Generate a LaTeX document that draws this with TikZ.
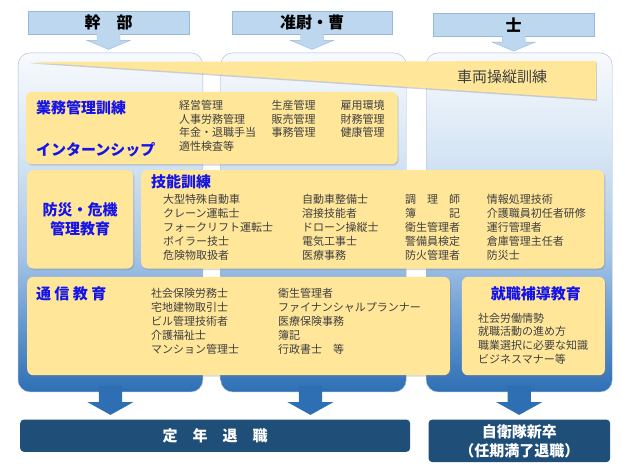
\documentclass[tikz,border=0pt]{standalone}
\usepackage{fontspec}
\setmainfont{Noto Sans CJK JP}
\usepackage{tikz}
\usetikzlibrary{
  positioning,
  calc,
  shadows
}
\definecolor{HeadFill}{RGB}{189,215,238}
\definecolor{HeadBorder}{RGB}{150,186,222}
\definecolor{ColTop}{RGB}{247,250,253}
\definecolor{ColLight}{RGB}{214,229,244}
\definecolor{ColMid}{RGB}{165,196,230}
\definecolor{ColDeep}{RGB}{100,152,208}
\definecolor{ColBot}{RGB}{46,111,180}
\definecolor{ColBorder}{RGB}{160,185,215}
\definecolor{CardFill}{RGB}{255,230,153}
\definecolor{TitleBlue}{RGB}{20,20,235}
\definecolor{ListGray}{RGB}{64,64,64}
\definecolor{ArrowBlue}{RGB}{46,111,180}
\definecolor{EndFill}{RGB}{31,78,121}
\pgfdeclareverticalshading{colshade}{100bp}{color(0bp)=(ColBot); color(25bp)=(ColBot); color(35bp)=(ColDeep); color(45bp)=(ColMid); color(60bp)=(ColLight); color(75bp)=(ColTop); color(100bp)=(ColTop)}
\tikzset{
  % Rank column
  column/.style={
    rectangle,
    rounded corners=12pt,
    draw=ColBorder,
    shading=colshade,
    anchor=north west,
    inner sep=0pt
  },
  % Rank header
  header/.style={
    rectangle,
    draw=HeadBorder,
    fill=HeadFill,
    anchor=north west,
    inner sep=0pt,
    font=\bfseries\fontsize{16}{16}\selectfont
  },
  % Arrow under a header
  harrow/.style={draw=HeadBorder, fill=HeadFill},
  % Arrow under a column
  barrow/.style={fill=ArrowBlue},
  % Yellow card
  card/.style={
    rectangle,
    rounded corners=6pt,
    fill=CardFill,
    anchor=north west,
    inner sep=0pt,
    drop shadow={shadow xshift=1.2pt, shadow yshift=-1.5pt, opacity=0.3}
  },
  % Card title
  ctitle/.style={
    font=\bfseries\fontsize{15}{18.5}\selectfont,
    text=TitleBlue,
    inner sep=0pt
  },
  % Card list
  clist/.style={
    font=\fontsize{11}{14}\selectfont,
    text=ListGray,
    align=left,
    inner sep=0pt,
    anchor=north west
  },
  % Wedge label
  wlabel/.style={font=\fontsize{15}{15}\selectfont, text=ListGray, inner sep=0pt},
  % Final box
  endbox/.style={
    rectangle,
    rounded corners=4pt,
    fill=EndFill,
    anchor=north west,
    inner sep=0pt,
    align=center,
    text=white,
    font=\bfseries\fontsize{15}{19}\selectfont
  }
}
\begin{document}
\begin{tikzpicture}[x=1pt, y=-1pt]
  \useasboundingbox (0,0) rectangle (623,471);

  % Columns
  \node[column, minimum width=184.7pt, minimum height=339pt] (c1) at (17.9,52.7) {};
  \node[column, minimum width=185.5pt, minimum height=339pt] (c2) at (220.5,52.7) {};
  \node[column, minimum width=186pt, minimum height=339pt] (c3) at (426,52.7) {};

  % Headers
  \node[header, minimum width=161pt, minimum height=23.3pt] (h1) at (27.8,11) {幹　部};
  \node[header, minimum width=160.4pt, minimum height=23.3pt] (h2) at (231.6,11) {准尉・曹};
  \node[header, minimum width=161pt, minimum height=23pt] (h3) at (433,13) {士};
  \filldraw[harrow, shift={(h1.south)}] (-11.5,-0.6) -- (-11.5,5.7) -- (-21.5,5.7) -- (0,14.7) -- (21.5,5.7) -- (11.5,5.7) -- (11.5,-0.6);
  \filldraw[harrow, shift={(h2.south)}] (-11.5,-0.6) -- (-11.5,5.7) -- (-21.5,5.7) -- (0,14.7) -- (21.5,5.7) -- (11.5,5.7) -- (11.5,-0.6);
  \filldraw[harrow, shift={(h3.south)}] (-11.5,-0.6) -- (-11.5,5.7) -- (-21.5,5.7) -- (0,14.7) -- (21.5,5.7) -- (11.5,5.7) -- (11.5,-0.6);

  % Vehicle training wedge
  \fill[CardFill, drop shadow={shadow xshift=0.8pt, shadow yshift=-1.5pt, opacity=0.35}] (30,62) -- (596,61) -- (596,99.3) -- cycle;
  \node[wlabel] (t0) at (502,77) {車両操縦訓練};

  % Management card
  \node[card, minimum width=371.5pt, minimum height=72.3pt] (b1) at (25.8,91.7) {};
  \node[ctitle, anchor=west] (b1t) at (35.8,107.3) {業務管理訓練};
  \node[ctitle, anchor=west] (b1i) at (35.8,150) {インターンシップ};
  \node[clist, font=\fontsize{11}{13.4}\selectfont] (b1a) at (178.8,100.5) {経営管理\\人事労務管理\\年金・退職手当\\適性検査等};
  \node[clist, font=\fontsize{11}{13.4}\selectfont] (b1b) at (271.4,100.5) {生産管理\\販売管理\\事務管理};
  \node[clist, font=\fontsize{11}{13.4}\selectfont] (b1c) at (340.5,100.5) {雇用環境\\財務管理\\健康管理};

  % Disaster card
  \node[card, minimum width=106pt, minimum height=98.3pt] (b2) at (27,170) {};
  \node[ctitle, align=center] (b2t) at (b2.center) {防災・危機\\管理教育};

  % Skill card
  \node[card, minimum width=463pt, minimum height=98.3pt] (b3) at (141,170) {};
  \node[ctitle, anchor=west] (b3t) at (151,181.7) {技能訓練};
  \node[clist] (b3a) at (163,194.5) {大型特殊自動車\\クレーン運転士\\フォークリフト運転士\\ボイラー技士\\危険物取扱者};
  \node[clist] (b3b) at (302,194.5) {自動車整備士\\溶接技能者\\ドローン操縦士\\電気工事士\\医療事務};
  \node[clist] (b3c) at (405,194.5) {調　理　師\\簿　　　記\\衛生管理者\\警備員検定\\防火管理者};
  \node[clist] (b3d) at (486.7,194.5) {情報処理技術\\介護職員初任者研修\\運行管理者\\倉庫管理主任者\\防災士};

  % Correspondence card
  \node[card, minimum width=422.7pt, minimum height=98.3pt] (b4) at (27,276.7) {};
  \node[ctitle, anchor=west] (b4t) at (35.8,294) {通 信 教 育};
  \node[clist] (b4a) at (151,287.8) {社会保険労務士\\宅地建物取引士\\ビル管理技術者\\介護福祉士\\マンション管理士};
  \node[clist] (b4b) at (278,287.8) {衛生管理者\\ファイナンシャルプランナー\\医療保険事務\\簿記\\行政書士　等};

  % Job support card
  \node[card, minimum width=143pt, minimum height=98.3pt] (b5) at (461.7,276.7) {};
  \node[ctitle] (b5t) at (535.8,294) {就職補導教育};
  \node[clist, font=\fontsize{11}{13.7}\selectfont] (b5a) at (478,312.8) {社会労働情勢\\就職活動の進め方\\職業選択に必要な知識\\ビジネスマナー等};

  % Final boxes
  \node[endbox, minimum width=390.1pt, minimum height=32.4pt] (e1) at (19.9,419.3) {定　年　退　職};
  \node[endbox, minimum width=181.7pt, minimum height=42.7pt] (e2) at (428.3,419.3) {自衛隊新卒\\（任期満了退職）};

  % Arrows to final boxes
  \fill[barrow, shift={(c1.south)}] (-11.7,-6) -- (-11.7,10) -- (-23,10) -- (0,22.8) -- (23,10) -- (11.7,10) -- (11.7,-6) -- cycle;
  \fill[barrow, shift={($(c2.south)+(-3,0)$)}] (-11.7,-6) -- (-11.7,10) -- (-23,10) -- (0,22.8) -- (23,10) -- (11.7,10) -- (11.7,-6) -- cycle;
  \fill[barrow, shift={(c3.south)}] (-11.7,-6) -- (-11.7,10) -- (-23,10) -- (0,22.8) -- (23,10) -- (11.7,10) -- (11.7,-6) -- cycle;
\end{tikzpicture}
\end{document}
